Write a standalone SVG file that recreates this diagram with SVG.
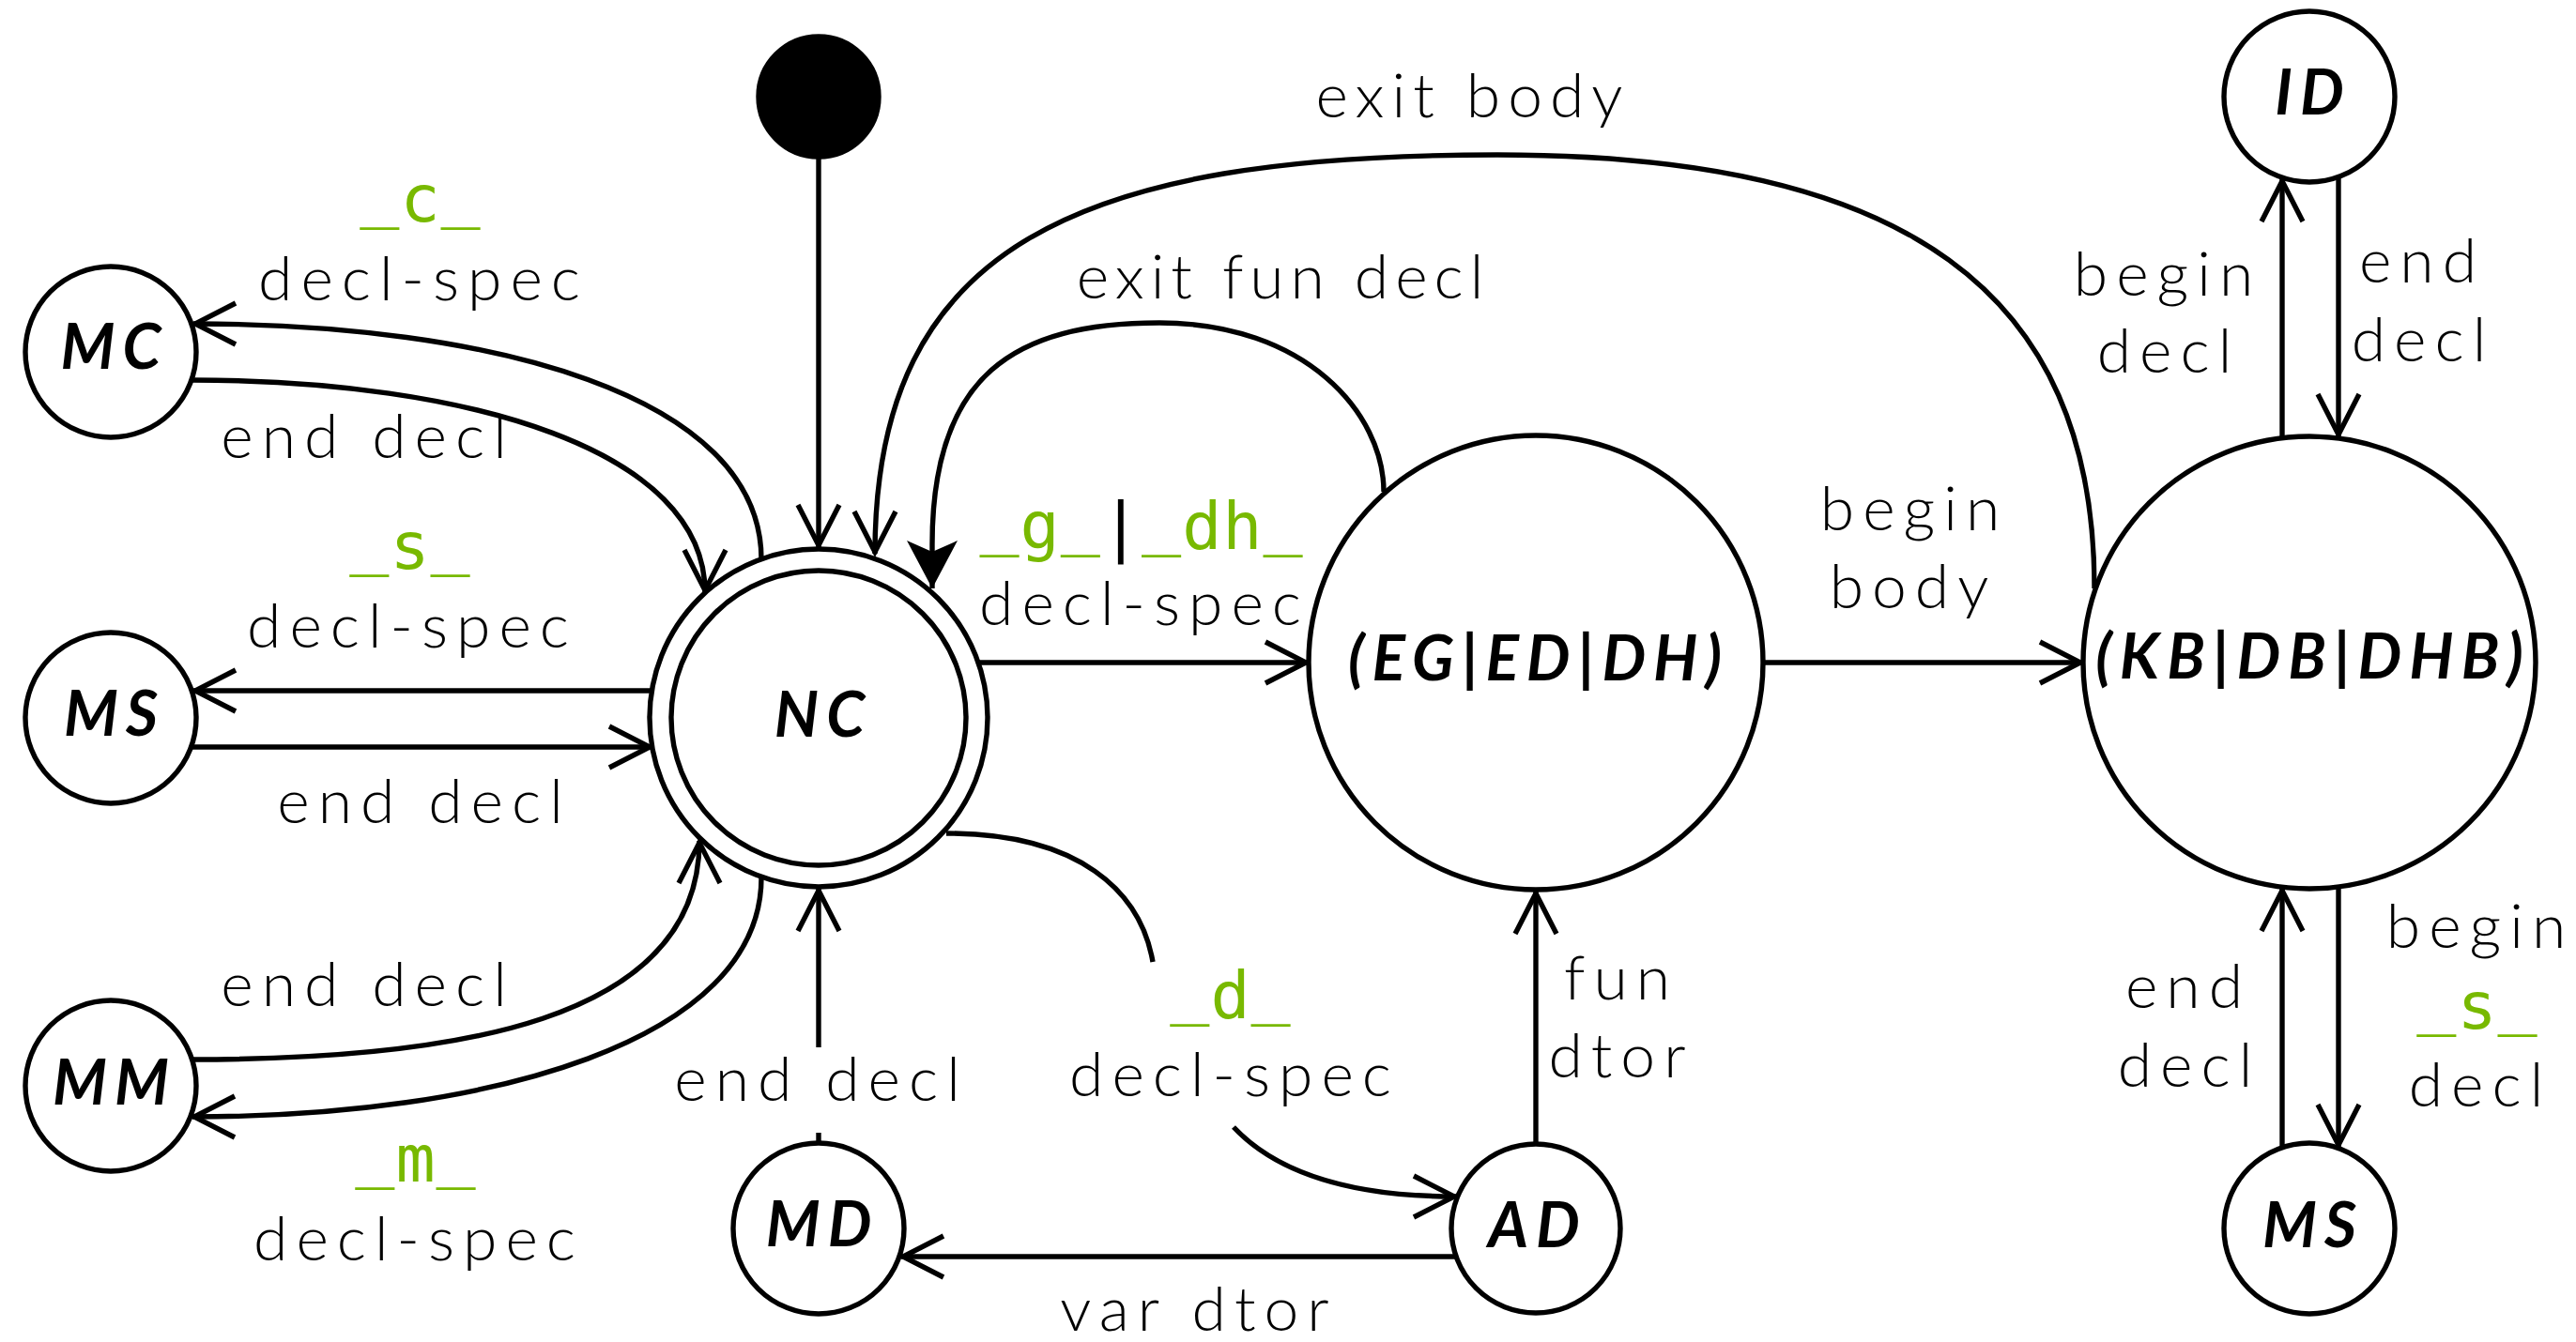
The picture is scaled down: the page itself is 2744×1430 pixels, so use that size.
<svg xmlns="http://www.w3.org/2000/svg" width="2744" height="1430" viewBox="0 0 2744 1430">
<style>
.node circle{fill:#fff;stroke:#000;stroke-width:5.4}
.edge path{fill:none;stroke:#000;stroke-width:5.4}
.lbl{font-family:Lato,"Open Sans","DejaVu Sans",sans-serif;font-weight:300;font-size:66px;letter-spacing:9px;text-anchor:middle;fill:#000}
.grn{font-family:"DejaVu Sans Mono","Liberation Mono",monospace;font-size:70px;letter-spacing:1px;fill:#78b900;text-anchor:middle}
.bar{fill:#000}
.nl{font-family:Lato,"Open Sans","DejaVu Sans",sans-serif;font-weight:700;font-style:italic;font-size:66px;letter-spacing:8px;text-anchor:middle;fill:#000}
</style>
<defs>
<marker id="open" markerUnits="userSpaceOnUse" viewBox="-60 -30 70 60" markerWidth="70" markerHeight="60" refX="0" refY="0" orient="auto" overflow="visible">
<path d="M-45,-22 L-2,0 L-45,22" fill="none" stroke="#000" stroke-width="5.4"/>
</marker>
<marker id="filled" markerUnits="userSpaceOnUse" viewBox="-60 -30 70 60" markerWidth="70" markerHeight="60" refX="0" refY="0" orient="auto" overflow="visible">
<path d="M0,0 L-51,-27 L-39,0 L-51,27 Z" fill="#000" stroke="none"/>
</marker>
</defs>
<rect width="2744" height="1430" fill="#fff"/>

<g id="edges" class="edge">
<path d="M872 167 L872 583" marker-end="url(#open)"/>
<path d="M811 596 C811 420 520 345 206 345" marker-end="url(#open)"/>
<path d="M204 405 C500 405 751 480 751 631" marker-end="url(#open)"/>
<path d="M694 736 L206 736" marker-end="url(#open)"/>
<path d="M204 796 L694 796" marker-end="url(#open)"/>
<path d="M811 935 C811 1110 520 1190 205 1190" marker-end="url(#open)"/>
<path d="M205 1129 C480 1129 745 1090 745 896" marker-end="url(#open)"/>
<path d="M872 1218 L872 1207 M872 1116 L872 947" marker-end="url(#open)"/>
<path d="M1008 888 C1150 888 1215 950 1228 1025 M1314 1201 C1360 1250 1440 1275 1551 1275" marker-end="url(#open)"/>
<path d="M1551 1339 L960 1339" marker-end="url(#open)"/>
<path d="M1636 1218 L1636 950" marker-end="url(#open)"/>
<path d="M1042 706 L1393 706" marker-end="url(#open)"/>
<path d="M1878 706 L2218 706" marker-end="url(#open)"/>
<path d="M1474 524 C1474 440 1390 344 1235 344 C1080 344 993 400 993 580 L993 627" marker-end="url(#filled)"/>
<path d="M2231 627 C2231 310 2030 165 1595 165 C1150 165 932 260 932 590" marker-end="url(#open)"/>
<path d="M2431 467 L2431 191" marker-end="url(#open)"/>
<path d="M2491 189 L2491 465" marker-end="url(#open)"/>
<path d="M2491 945 L2491 1222" marker-end="url(#open)"/>
<path d="M2431 1223 L2431 947" marker-end="url(#open)"/>
</g>

<g id="edge-labels">
<text class="grn" x="448" y="236"><tspan dy="-7">_</tspan><tspan dy="7">c</tspan><tspan dy="-7">_</tspan></text>
<text class="lbl" x="451" y="320">decl-spec</text>
<text class="lbl" x="392" y="488">end decl</text>
<text class="grn" x="437" y="606"><tspan dy="-7">_</tspan><tspan dy="7">s</tspan><tspan dy="-7">_</tspan></text>
<text class="lbl" x="439" y="690">decl-spec</text>
<text class="lbl" x="452" y="877">end decl</text>
<text class="lbl" x="392" y="1072">end decl</text>
<text class="grn" x="443" y="1259"><tspan dy="-7">_</tspan><tspan dy="7">m</tspan><tspan dy="-7">_</tspan></text>
<text class="lbl" x="446" y="1343">decl-spec</text>
<text class="lbl" x="875" y="1173">end decl</text>
<text class="lbl" x="1569" y="125" style="letter-spacing:8px">exit body</text>
<text class="lbl" x="1367" y="318" style="letter-spacing:7px">exit fun decl</text>
<text class="grn" x="1216" y="585"><tspan dy="-7">_</tspan><tspan dy="7">g</tspan><tspan dy="-7">_</tspan><tspan class="bar" dy="7">|</tspan><tspan dy="-7">_</tspan><tspan dy="7">dh</tspan><tspan dy="-7">_</tspan></text>
<text class="lbl" x="1219" y="666">decl-spec</text>
<text class="lbl" x="2039" y="565">begin</text>
<text class="lbl" x="2038" y="648">body</text>
<text class="grn" x="1311" y="1085"><tspan dy="-7">_</tspan><tspan dy="7">d</tspan><tspan dy="-7">_</tspan></text>
<text class="lbl" x="1315" y="1168">decl-spec</text>
<text class="lbl" x="1727" y="1065">fun</text>
<text class="lbl" x="1727" y="1148">dtor</text>
<text class="lbl" x="1277" y="1418">var dtor</text>
<text class="lbl" x="2309" y="315">begin</text>
<text class="lbl" x="2310" y="397">decl</text>
<text class="lbl" x="2580" y="301">end</text>
<text class="lbl" x="2581" y="385">decl</text>
<text class="lbl" x="2331" y="1074">end</text>
<text class="lbl" x="2332" y="1158">decl</text>
<text class="lbl" x="2642" y="1010">begin</text>
<text class="grn" x="2639" y="1096"><tspan dy="-7">_</tspan><tspan dy="7">s</tspan><tspan dy="-7">_</tspan></text>
<text class="lbl" x="2642" y="1179">decl</text>
</g>

<g id="init" class="node"><circle cx="872" cy="103" r="64" style="fill:#000"/></g>
<g id="NC" class="node"><circle cx="872" cy="765" r="180"/><circle cx="872" cy="765" r="157"/><text class="nl" x="877" y="785">NC</text></g>
<g id="MC" class="node"><circle cx="118" cy="375" r="91"/><text class="nl" x="122" y="393">MC</text></g>
<g id="MS1" class="node"><circle cx="118" cy="765" r="91"/><text class="nl" x="122" y="784">MS</text></g>
<g id="MM" class="node"><circle cx="118" cy="1157" r="91"/><text class="nl" x="122" y="1177">MM</text></g>
<g id="MD" class="node"><circle cx="872" cy="1309" r="91"/><text class="nl" x="876" y="1328">MD</text></g>
<g id="AD" class="node"><circle cx="1636" cy="1309" r="90"/><text class="nl" x="1638" y="1329">AD</text></g>
<g id="EG" class="node"><circle cx="1636" cy="706" r="242"/><text class="nl" x="1639" y="725">(EG|ED|DH)</text></g>
<g id="KB" class="node"><circle cx="2460" cy="706" r="241"/><text class="nl" x="2464" y="723">(KB|DB|DHB)</text></g>
<g id="ID" class="node"><circle cx="2460" cy="103" r="91"/><text class="nl" x="2464" y="122">ID</text></g>
<g id="MS2" class="node"><circle cx="2460" cy="1309" r="91"/><text class="nl" x="2464" y="1329">MS</text></g>
</svg>
